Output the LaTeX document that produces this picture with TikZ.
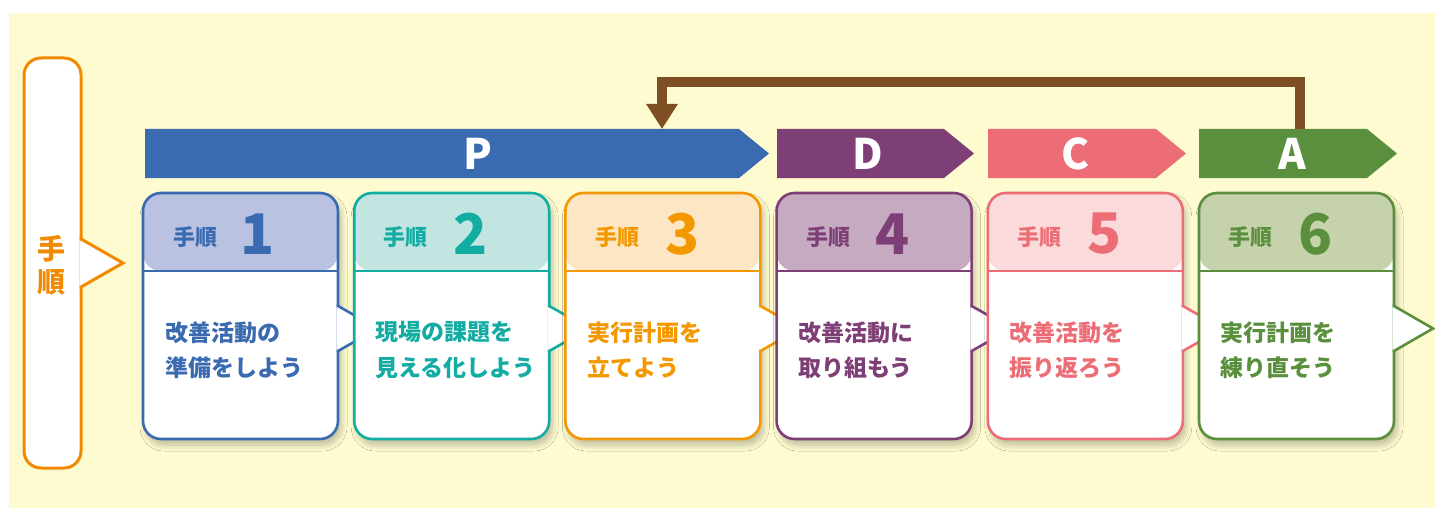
\documentclass[tikz,border=0pt]{standalone}
\usepackage{fontspec}
\usepackage{tikz}
\usetikzlibrary{arrows.meta,shadows.blur}
\newfontfamily\jpfont{Noto Sans CJK JP}
\definecolor{cream}{HTML}{FEFBD0}
\definecolor{lblorange}{HTML}{F18A00}
\definecolor{fbbrown}{HTML}{7E4F22}
\definecolor{cblue}{HTML}{3A6AB0}
\definecolor{hblue}{HTML}{B9C3E1}
\definecolor{cteal}{HTML}{13ACA3}
\definecolor{hteal}{HTML}{C2E5E2}
\definecolor{corange}{HTML}{F39800}
\definecolor{horange}{HTML}{FCE6C4}
\definecolor{cpurple}{HTML}{7E3F76}
\definecolor{hpurple}{HTML}{C5AAC2}
\definecolor{cpink}{HTML}{EC6D76}
\definecolor{hpink}{HTML}{FADADA}
\definecolor{cgreen}{HTML}{5A8F3D}
\definecolor{hgreen}{HTML}{C6D2AC}
\tikzstyle{stephead}=[font=\jpfont\bfseries\fontsize{11pt}{13pt}\selectfont,inner sep=0pt]
\tikzstyle{stepnum}=[font=\jpfont\bfseries\fontsize{28pt}{30pt}\selectfont,inner sep=0pt]
\tikzstyle{steptext}=[font=\jpfont\bfseries\fontsize{11.5pt}{17.5pt}\selectfont,align=left,anchor=west,inner sep=0pt]
\tikzstyle{phase}=[font=\jpfont\bfseries\fontsize{21pt}{23pt}\selectfont,text=white,inner sep=0pt]
\tikzstyle{tab}=[fill=white,line width=1.3pt]
\tikzstyle{feedback}=[draw=fbbrown,line width=5pt,-{Triangle[width=15pt,length=12.5pt]}]

\begin{document}
\begin{tikzpicture}[x=0.5pt,y=-0.5pt]
      \tikzset{card/.style 2 args={draw=#1,fill=white,line width=1.3pt,rounded corners=9pt,
          minimum width=97.5pt,minimum height=123pt,inner sep=0pt,
          blur shadow={shadow xshift=1.5pt,shadow yshift=-3pt,shadow blur radius=3pt,shadow blur steps=8,shadow opacity=25},
          path picture={\fill[#2] (path picture bounding box.north west) rectangle ([yshift=-39pt]path picture bounding box.north east);
            \draw[#1,line width=1.3pt] ([yshift=-39pt]path picture bounding box.north west) -- ([yshift=-39pt]path picture bounding box.north east);}}}
      \useasboundingbox (0,0) rectangle (1435,508);
      \fill[cream] (9,13) rectangle (1435,508);
      % left label
      \node[draw=lblorange,fill=white,line width=1.5pt,rounded corners=8.5pt,minimum width=28.5pt,minimum height=205pt] (lbl) at (52.5,263) {};
      \filldraw[tab,draw=lblorange,line width=1.5pt] (79.5,239) -- (81,239) -- (123,263) -- (81,287) -- (79.5,287);
      \node[font=\jpfont\bfseries\fontsize{14pt}{16.5pt}\selectfont,text=lblorange,align=center,inner sep=0pt] (lbltext) at (51,265.5) {手\\順};
      % phase bars
      \fill[cblue] (145,129) -- (739,129) -- (769,153.5) -- (739,178) -- (145,178) -- cycle;
      \fill[cpurple] (777,129) -- (944,129) -- (974,153.5) -- (944,178) -- (777,178) -- cycle;
      \fill[cpink] (988,129) -- (1156,129) -- (1186,153.5) -- (1156,178) -- (988,178) -- cycle;
      \fill[cgreen] (1199,129) -- (1367,129) -- (1397,153.5) -- (1367,178) -- (1199,178) -- cycle;
      \node[phase] (P) at (478,154) {P};
      \node[phase] (D) at (868,154) {D};
      \node[phase] (C) at (1075,154) {C};
      \node[phase] (A) at (1292,154) {A};
      \coordinate (Atop) at (1300,129);
      \coordinate (Pin) at (662,129);
      \draw[feedback] (Atop) -- ++(0,-47) -| (Pin);
      % step 1
      \node[card={cblue}{hblue}] (box1) at (240.5,316) {};
      \node[stephead,text=cblue] (head1) at (195,237) {手順};
      \node[stepnum,text=cblue] (num1) at (258,234) {1};
      \node[steptext,text=cblue] (text1) at (165,350) {改善活動の\\準備をしよう};
      \filldraw[tab,draw=cblue] (336.7,306) -- (338,306) -- (378,328.5) -- (338,351) -- (336.7,351);
      % step 2
      \node[card={cteal}{hteal}] (box2) at (451.7,316) {};
      \node[stephead,text=cteal] (head2) at (405,237) {手順};
      \node[stepnum,text=cteal] (num2) at (471,234) {2};
      \node[steptext,text=cteal] (text2) at (375,350) {現場の課題を\\見える化しよう};
      \filldraw[tab,draw=cteal] (547.9,306) -- (549.2,306) -- (589.2,328.5) -- (549.2,351) -- (547.9,351);
      % step 3
      \node[card={corange}{horange}] (box3) at (662.9,316) {};
      \node[stephead,text=corange] (head3) at (617,237) {手順};
      \node[stepnum,text=corange] (num3) at (683,234) {3};
      \node[steptext,text=corange] (text3) at (587,350) {実行計画を\\立てよう};
      \filldraw[tab,draw=corange] (759.1,306) -- (760.4,306) -- (800.4,328.5) -- (760.4,351) -- (759.1,351);
      % step 4
      \node[card={cpurple}{hpurple}] (box4) at (874.1,316) {};
      \node[stephead,text=cpurple] (head4) at (828,237) {手順};
      \node[stepnum,text=cpurple] (num4) at (893,234) {4};
      \node[steptext,text=cpurple] (text4) at (798,350) {改善活動に\\取り組もう};
      \filldraw[tab,draw=cpurple] (970.3,306) -- (971.6,306) -- (1011.6,328.5) -- (971.6,351) -- (970.3,351);
      % step 5
      \node[card={cpink}{hpink}] (box5) at (1085.3,316) {};
      \node[stephead,text=cpink] (head5) at (1039,237) {手順};
      \node[stepnum,text=cpink] (num5) at (1105,234) {5};
      \node[steptext,text=cpink] (text5) at (1009,350) {改善活動を\\振り返ろう};
      \filldraw[tab,draw=cpink] (1181.5,306) -- (1182.8,306) -- (1222.8,328.5) -- (1182.8,351) -- (1181.5,351);
      % step 6
      \node[card={cgreen}{hgreen}] (box6) at (1296.5,316) {};
      \node[stephead,text=cgreen] (head6) at (1250,237) {手順};
      \node[stepnum,text=cgreen] (num6) at (1316,234) {6};
      \node[steptext,text=cgreen] (text6) at (1220,350) {実行計画を\\練り直そう};
      \filldraw[tab,draw=cgreen] (1392.7,306) -- (1394,306) -- (1433,328.5) -- (1394,351) -- (1392.7,351);
      \end{tikzpicture}
\end{document}
